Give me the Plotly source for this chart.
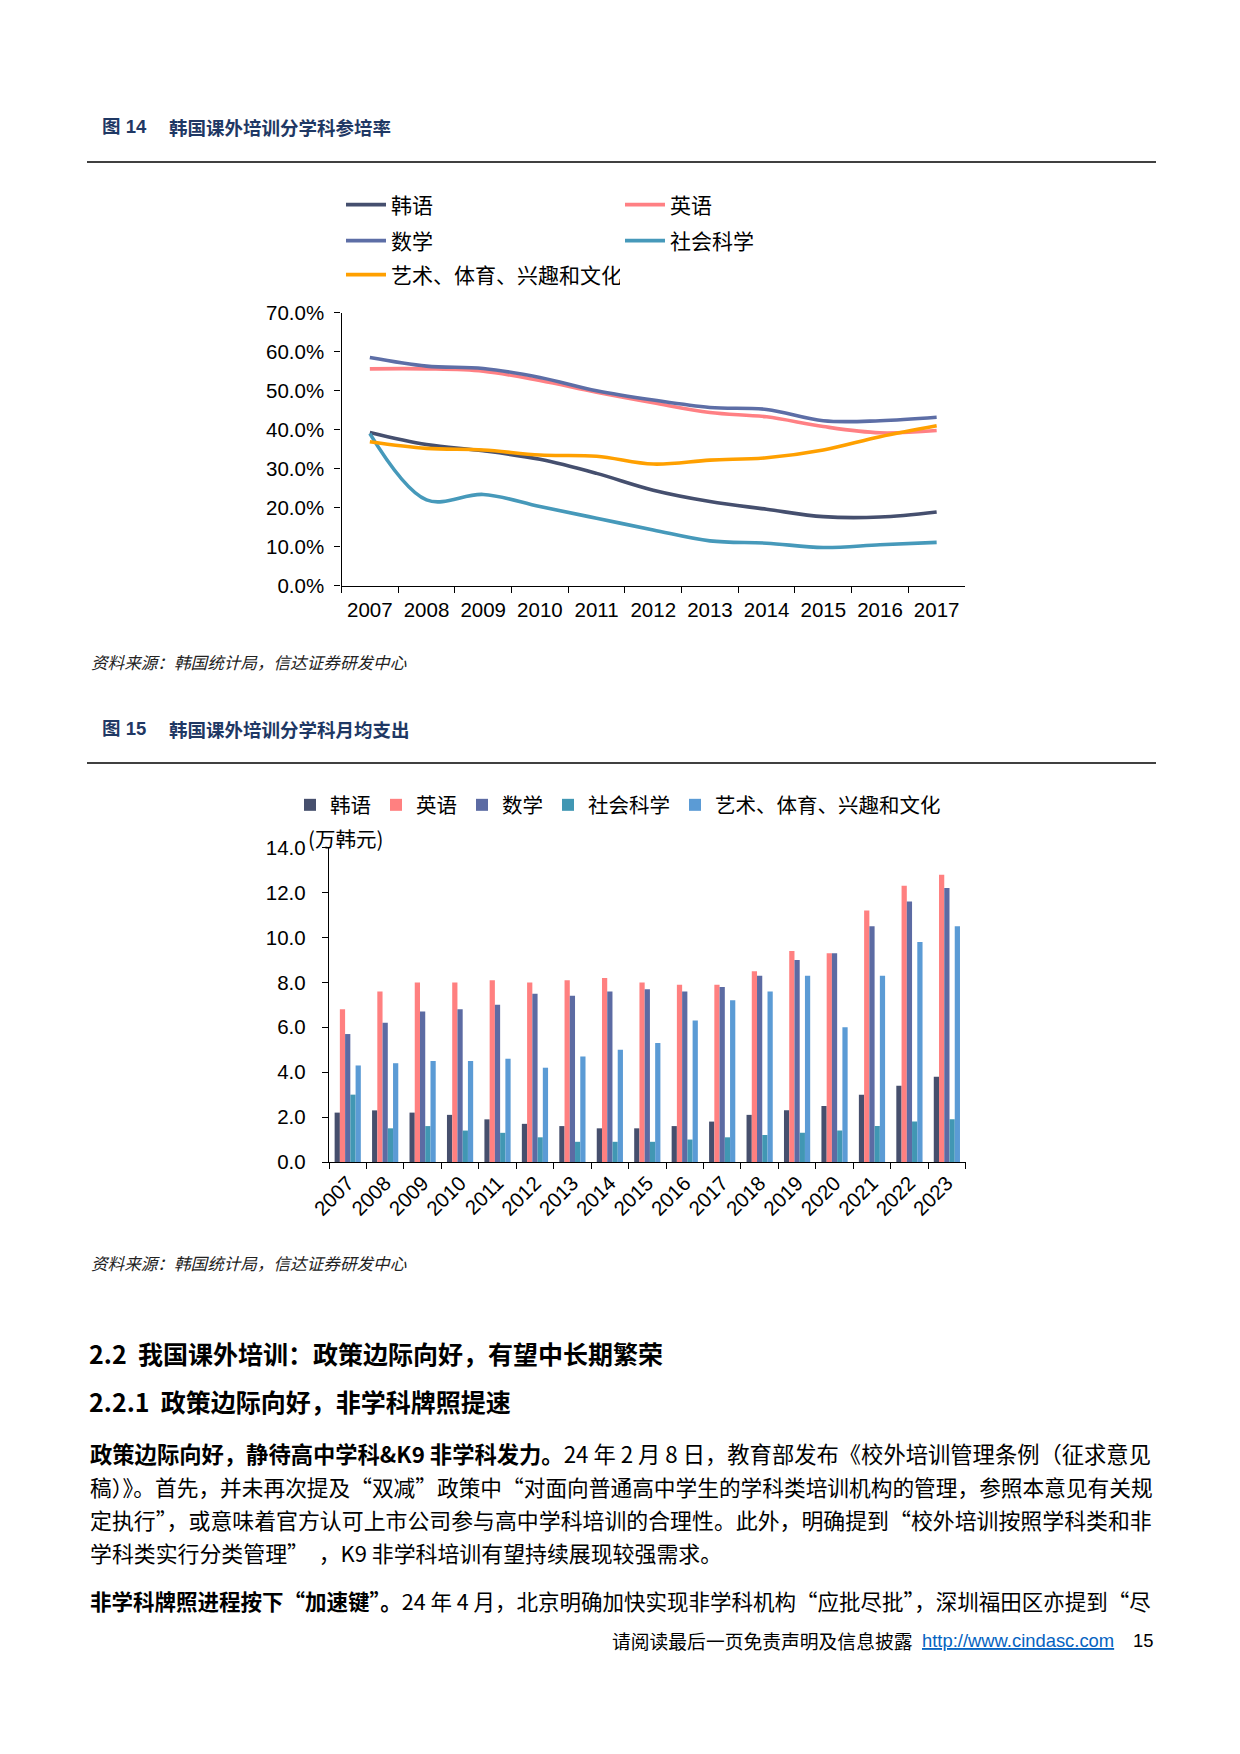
import plotly.graph_objects as go

W, H = 1240, 1754
OFF = 8  # the page body margin shifts the figure by 8px


def X(px):
    return (px - OFF) / W


def Y(py):
    return 1 - (py - OFF) / H


# ---------------- data: figure 14 (participation rate, %) ----------------
years14 = ['2007', '2008', '2009', '2010', '2011', '2012', '2013', '2014', '2015', '2016', '2017']
korean14 = [39.3, 36.2, 34.6, 32.4, 28.8, 24.5, 21.6, 19.6, 17.7, 17.6, 18.9]
english14 = [55.6, 55.6, 55.0, 52.6, 49.6, 46.9, 44.4, 43.3, 40.8, 39.2, 39.8]
math14 = [58.5, 56.3, 55.7, 53.4, 50.0, 47.6, 45.7, 45.2, 42.3, 42.3, 43.2]
social14 = [39.0, 22.0, 23.4, 20.3, 17.3, 14.3, 11.5, 10.9, 9.8, 10.5, 11.1]
arts14 = [36.9, 35.2, 34.8, 33.5, 33.2, 31.2, 32.2, 32.8, 34.8, 38.2, 41.0]

# ---------------- data: figure 15 (monthly spending, 万韩元) ----------------
years15 = ['2007', '2008', '2009', '2010', '2011', '2012', '2013', '2014', '2015',
           '2016', '2017', '2018', '2019', '2020', '2021', '2022', '2023']
korean15 = [2.2, 2.3, 2.2, 2.1, 1.9, 1.7, 1.6, 1.5, 1.5, 1.6, 1.8, 2.1, 2.3, 2.5, 3.0, 3.4, 3.8]
english15 = [6.8, 7.6, 8.0, 8.0, 8.1, 8.0, 8.1, 8.2, 8.0, 7.9, 7.9, 8.5, 9.4, 9.3, 11.2, 12.3, 12.8]
math15 = [5.7, 6.2, 6.7, 6.8, 7.0, 7.5, 7.4, 7.6, 7.7, 7.6, 7.8, 8.3, 9.0, 9.3, 10.5, 11.6, 12.2]
social15 = [3.0, 1.5, 1.6, 1.4, 1.3, 1.1, 0.9, 0.9, 0.9, 1.0, 1.1, 1.2, 1.3, 1.4, 1.6, 1.8, 1.9]
arts15 = [4.3, 4.4, 4.5, 4.5, 4.6, 4.2, 4.7, 5.0, 5.3, 6.3, 7.2, 7.6, 8.3, 6.0, 8.3, 9.8, 10.5]

names = ['韩语', '英语', '数学', '社会科学', '艺术、体育、兴趣和文化']
line_colors = ['#454F6E', '#FF8084', '#5D6EA6', '#4699BA', '#FFA000']
bar_colors = ['#464F6D', '#FF8080', '#5C6BA3', '#4197B3', '#5B9BD5']

LAT = 'Liberation Sans, Arial, Noto Sans CJK SC, sans-serif'
CJK = 'Noto Sans CJK SC, Liberation Sans, sans-serif'

fig = go.Figure()

series14 = [korean14, english14, math14, social14, arts14]
legend_of = ['legend', 'legend', 'legend2', 'legend2', 'legend3']
for nm, vals, col, lg in zip(names, series14, line_colors, legend_of):
    fig.add_trace(go.Scatter(
        x=years14, y=vals, name=nm, mode='lines',
        line=dict(color=col, width=3.6, shape='spline', smoothing=1.0),
        xaxis='x', yaxis='y', legend=lg, hoverinfo='skip'))

series15 = [korean15, english15, math15, social15, arts15]
for nm, vals, col in zip(names, series15, bar_colors):
    fig.add_trace(go.Bar(
        x=years15, y=vals, name=nm, marker=dict(color=col, line=dict(width=0)),
        xaxis='x2', yaxis='y2', legend='legend4', hoverinfo='skip'))

axis_common = dict(showline=True, linecolor='black', linewidth=1.4, ticks='outside',
                   tickcolor='black', tickwidth=1.3, showgrid=False, zeroline=False,
                   automargin=False,
                   tickfont=dict(family=LAT, size=20.5, color='black'))

legend_common = dict(orientation='h', xanchor='left', yanchor='middle',
                     bgcolor='rgba(0,0,0,0)', borderwidth=0, itemwidth=40,
                     font=dict(family=CJK, size=21, color='black'))

annotations = []


def txt(x, y, text, size, color='black', family=CJK, xanchor='left'):
    annotations.append(dict(x=X(x), y=Y(y), xref='paper', yref='paper', text=text,
                            showarrow=False, xanchor=xanchor, yanchor='middle',
                            font=dict(family=family, size=size, color=color)))


NAVY = '#1F3864'
txt(100, 127, '<b>图 14</b>', 18.5, NAVY, LAT)
txt(167, 127, '<b>韩国课外培训分学科参培率</b>', 18.5, NAVY)
txt(89, 662, '<i>资料来源：韩国统计局，信达证券研发中心</i>', 16.6, '#222')
txt(100, 729, '<b>图 15</b>', 18.5, NAVY, LAT)
txt(167, 729, '<b>韩国课外培训分学科月均支出</b>', 18.5, NAVY)
txt(306, 838, '(万韩元)', 20.5, 'black')
txt(89, 1263, '<i>资料来源：韩国统计局，信达证券研发中心</i>', 16.6, '#222')
txt(87, 1353, '<b>2.2  我国课外培训：政策边际向好，有望中长期繁荣</b>', 25)
txt(87, 1401, '<b>2.2.1  政策边际向好，非学科牌照提速</b>', 25)
txt(88, 1453, '<b>政策边际向好，静待高中学科&amp;K9 非学科发力。</b>24 年 2 月 8 日，教育部发布《校外培训管理条例（征求意见', 22.3)
txt(88, 1486, '稿）》。首先，并未再次提及“双减”政策中“对面向普通高中学生的学科类培训机构的管理，参照本意见有关规', 21.7)
txt(88, 1519, '定执行”，或意味着官方认可上市公司参与高中学科培训的合理性。此外，明确提到“校外培训按照学科类和非', 21.9)
txt(88, 1552, '学科类实行分类管理”  ，K9 非学科培训有望持续展现较强需求。', 21.9)
txt(88, 1600, '<b>非学科牌照进程按下“加速键”。</b>24 年 4 月，北京明确加快实现非学科机构“应批尽批”，深圳福田区亦提到“尽', 21.5)
txt(610, 1640, '请阅读最后一页免责声明及信息披露', 18.8)
txt(920, 1640, '<u>http://www.cindasc.com</u>', 18.4, '#0563C1', LAT)
txt(1131, 1640, '15', 18.4, 'black', LAT)

shapes = [
    dict(type='line', xref='paper', yref='paper', x0=X(87), x1=X(1156), y0=Y(162), y1=Y(162),
         line=dict(color='black', width=1.5)),
    dict(type='line', xref='paper', yref='paper', x0=X(87), x1=X(1156), y0=Y(763), y1=Y(763),
         line=dict(color='black', width=1.5)),
]

fig.update_layout(
    width=W, height=H, margin=dict(l=0, r=0, t=0, b=0, pad=0, autoexpand=False),
    paper_bgcolor='white', plot_bgcolor='white', showlegend=True,
    barmode='group', bargap=0.3, bargroupgap=0.0,
    xaxis=dict(domain=[X(341.5), X(965)], anchor='y', type='category',
               range=[-0.5, 10.5], tickson='boundaries', ticklen=6, ticklabelstandoff=5,
               **axis_common),
    yaxis=dict(domain=[Y(585.7), Y(312.7)], anchor='x', range=[0, 70], dtick=10,
               tickformat='.1f', ticksuffix='%', ticklen=6, ticklabelstandoff=6, **axis_common),
    xaxis2=dict(domain=[X(329), X(965.6)], anchor='y2', type='category',
                range=[-0.5, 16.5], tickson='boundaries', ticklen=6, tickangle=-45, **axis_common),
    yaxis2=dict(domain=[Y(1162), Y(847.7)], anchor='x2', range=[0, 14], dtick=2,
                tickformat='.1f', ticklen=6, ticklabelstandoff=12, **axis_common),
    legend=dict(x=X(341), y=Y(205), entrywidth=224, entrywidthmode='pixels', **legend_common),
    legend2=dict(x=X(341), y=Y(241), entrywidth=224, entrywidthmode='pixels', **legend_common),
    legend3=dict(x=X(341), y=Y(275), entrywidth=224, entrywidthmode='pixels', **legend_common),
    legend4=dict(x=X(290), y=Y(805), orientation='h', xanchor='left', yanchor='middle',
                 bgcolor='rgba(0,0,0,0)', font=dict(family=CJK, size=20.5, color='black')),
    annotations=annotations, shapes=shapes,
)

fig.write_html('out.html')
